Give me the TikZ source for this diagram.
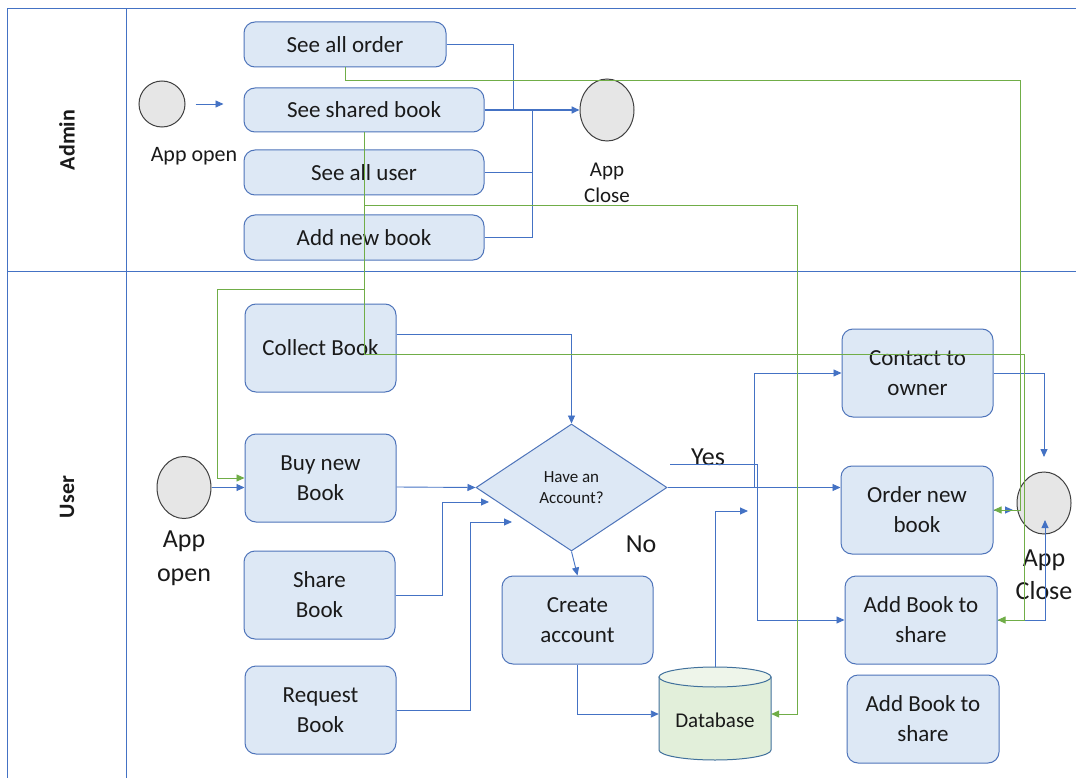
\documentclass[tikz,border=0pt]{standalone}
\usepackage{fontspec}
\setmainfont{Carlito}
\usetikzlibrary{shapes.geometric,arrows.meta,calc}
\definecolor{framec}{HTML}{4472C4}
\definecolor{boxf}{HTML}{DDE8F5}
\definecolor{boxb}{HTML}{4E74BA}
\definecolor{conb}{HTML}{4472C4}
\definecolor{cong}{HTML}{70AD47}
\definecolor{circf}{HTML}{E6E6E6}
\definecolor{circb}{HTML}{404040}
\definecolor{dbf}{HTML}{E2EFDA}
\definecolor{dbtop}{HTML}{EEF5EA}
\definecolor{dbb}{HTML}{41719C}
\definecolor{txt}{HTML}{1A1A1A}
\begin{document}
\begin{tikzpicture}[x=1pt,y=-1pt,
  box/.style={draw=boxb, fill=boxf, rounded corners=11pt, line width=1pt, align=center,
    font=\fontsize{23}{30}\selectfont, text=txt, inner sep=0pt},
  bl/.style={draw=conb, line width=0.9pt},
  bla/.style={bl, -{Triangle[length=8pt,width=7pt]}},
  gr/.style={draw=cong, line width=0.9pt},
  gra/.style={gr, -{Triangle[length=8pt,width=7pt]}},
  startc/.style={ellipse, draw=circb, fill=circf, line width=1pt, inner sep=0pt},
  lbl/.style={align=center, text=txt},
  lane/.style={rotate=90, font=\fontsize{22}{26}\selectfont\bfseries, text=txt},
  framel/.style={draw=framec, line width=1pt}
]
\fill[white] (0,0) rectangle (1076,778);
\useasboundingbox (0,0) rectangle (1076,778);

% swimlane frame
\draw[framel] (7,778) -- (7,9) -- (1076,9);
\draw[framel] (126,9) -- (126,778);
\draw[framel] (7,271) -- (1076,271);
\node[lane] (adminl) at (67,140) {Admin};
\node[lane] (userl) at (67,497) {User};

% ---------- Admin lane ----------
\node[startc, minimum width=46, minimum height=46] (open1) at (162,104) {};
\node[lbl, font=\fontsize{22}{26}\selectfont] (open1t) at (194,156) {App open};
\node[box, minimum width=202, minimum height=45] (order) at (345,44.5) {See all order};
\node[box, minimum width=240, minimum height=44] (shared) at (364,110) {See shared book};
\node[box, minimum width=240, minimum height=45] (alluser) at (364,172.5) {See all user};
\node[box, minimum width=240, minimum height=45] (addnew) at (364,237.5) {Add new book};
\node[startc, minimum width=54, minimum height=62] (close1) at (607,110) {};
\node[lbl, font=\fontsize{21}{26}\selectfont] (close1t) at (607,183) {App\\Close};

% ---------- User lane ----------
\node[startc, minimum width=54, minimum height=62] (open2) at (184,487.5) {};
\node[lbl, font=\fontsize{26}{34}\selectfont] (open2t) at (184,558) {App\\open};
\node[box, minimum width=151, minimum height=88] (collect) at (320.5,348) {Collect Book};
\node[box, minimum width=151, minimum height=88] (buy) at (320.5,478) {Buy new\\Book};
\node[box, minimum width=151, minimum height=88] (share) at (319.5,595) {Share\\Book};
\node[box, minimum width=151, minimum height=88] (request) at (320.5,710) {Request\\Book};
\node[diamond, draw=boxb, fill=boxf, line width=1pt, minimum width=191, minimum height=127,
  inner sep=0pt, align=center, text=txt, font=\fontsize{17}{21}\selectfont] (dia) at (571.5,487.5) {Have an\\Account?};
\node[box, minimum width=151, minimum height=88] (create) at (577.5,620) {Create\\account};
\node[box, minimum width=151, minimum height=88] (contact) at (917.5,373) {Contact to\\owner};
\node[box, minimum width=152, minimum height=88] (ordernew) at (917,510) {Order new\\book};
\node[box, minimum width=152, minimum height=88] (addshare) at (921,620) {Add Book to\\share};
\node[box, minimum width=152, minimum height=88] (addshare2) at (923,719) {Add Book to\\share};
\node[startc, minimum width=54, minimum height=62] (close2) at (1044,503) {};
\node[lbl, font=\fontsize{26}{33}\selectfont] (close2t) at (1044,575) {App\\Close};
\node[lbl, font=\fontsize{26}{30}\selectfont] (yes) at (708,457) {Yes};
\node[lbl, font=\fontsize{26}{30}\selectfont] (no) at (641,544) {No};

% database cylinder
\path[draw=dbb, fill=dbf, line width=1pt] (659,677) -- (659,750)
  arc[start angle=180, end angle=360, x radius=56pt, y radius=10pt] -- (771,677) -- cycle;
\draw[draw=dbb, fill=dbtop, line width=1pt] (715,677) ellipse [x radius=56pt, y radius=10pt];
\node[minimum width=112, minimum height=93, inner sep=0pt] (db) at (715,714) {};
\node[lbl, font=\fontsize{21}{25}\selectfont] (dbt) at (715,720) {Database};

% ---------- connectors: admin ----------
\draw[bla] ($(open1.east)+(10,0)$) -- ($(open1.east)+(38,0)$);
\draw[bl] (order.east) -| (513,110);
\draw[bla, line width=1.6pt] (shared.east) -- (close1.west);
\draw[bl] (alluser.east) -| (532,110);
\draw[bl] (addnew.east) -| (532,110);

% ---------- connectors: user (blue) ----------
\draw[bla] (open2.east) -- (open2.east -| buy.west);
\draw[bla] ([yshift=14pt]collect.east) -| (dia.north);
\draw[bla] ([yshift=-9pt]buy.east) -- (dia.west);
\draw[bla] (share.east) -| (442,502) -- (489,502);
\draw[bla] (request.east) -| (470,522) -- (512,522);
\draw[bla] (dia.south) -- (create.north);
\draw[bla] (create.south) |- (db.west);
\draw[bla] (db.north) |- (748,511);
\draw[bla] (dia.east) -- (dia.east -| ordernew.west);
\coordinate (ybr) at (754,487.5);
\draw[bla] (ybr) |- (contact.west);
\coordinate (yesl) at (670,464);
\draw[bla] (yesl) -| (757,620) -- (addshare.west);
\draw[bla] (contact.east) -| (1044,457);
\draw[bla] (ordernew.east) -- (1013,510);
\draw[bla] (addshare.east) -| (1045,520);

% ---------- connectors: green ----------
\draw[gra] (order.south) -- ++(0,13) -| (1020,510) -- (ordernew.east);
\draw[gra] (shared.south) |- (1024,354) -- (1024,620) -- (addshare.east);
\draw[gra] (364,205) -| (797,714) -- (db.east);
\draw[gra] (364,289) -| (217,478) -- (buy.west);
\end{tikzpicture}
\end{document}
